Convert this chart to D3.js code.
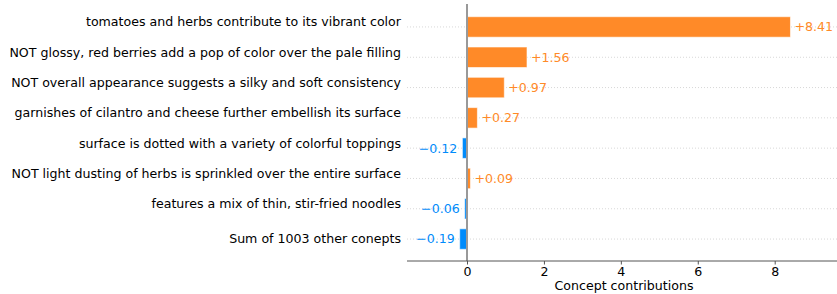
<!DOCTYPE html>
<html>
<head>
<meta charset="utf-8">
<script src="https://cdn.jsdelivr.net/npm/d3@7"></script>
<style>
  body { margin: 0; background: #fff; }
  text { font-family: "DejaVu Sans", sans-serif; }
</style>
</head>
<body>
<div id="chart"></div>
<script>
// concept names, top to bottom
var concepts = [
  'tomatoes and herbs contribute to its vibrant color',
  'NOT glossy, red berries add a pop of color over the pale filling',
  'NOT overall appearance suggests a silky and soft consistency',
  'garnishes of cilantro and cheese further embellish its surface',
  'surface is dotted with a variety of colorful toppings',
  'NOT light dusting of herbs is sprinkled over the entire surface',
  'features a mix of thin, stir-fried noodles',
  'Sum of 1003 other conepts'
];
var contributions = [8.41, 1.56, 0.97, 0.27, -0.12, 0.09, -0.06, -0.19];
var xTicks = [0, 2, 4, 6, 8];

var W = 837, H = 294;
var posColor = '#ff8a28', negColor = '#008bfb';
var fs = 12.6;

var svg = d3.select('#chart').append('svg')
    .attr('width', W)
    .attr('height', H);

var x = d3.scaleLinear().domain([-1.56, 9.62]).range([407, 837]);
var y = d3.scaleBand().domain(concepts).range([11.8, 254.2]).padding(0);
var barH = 20.5;
var fmt = function (v) { return (v >= 0 ? '+' : '\u2212') + Math.abs(v).toFixed(2); };

var rows = concepts.map(function (c, i) { return {name: c, value: contributions[i], i: i}; });

// dotted guide lines
svg.append('g').selectAll('line')
    .data(rows).enter().append('line')
    .attr('x1', 407).attr('x2', 837)
    .attr('y1', d => y(d.name) + y.bandwidth() / 2)
    .attr('y2', d => y(d.name) + y.bandwidth() / 2)
    .attr('stroke', '#d8d8d8')
    .attr('stroke-dasharray', '1,2');

// bars
svg.append('g').selectAll('rect')
    .data(rows).enter().append('rect')
    .attr('x', d => x(Math.min(0, d.value)))
    .attr('width', d => Math.abs(x(d.value) - x(0)))
    .attr('y', d => y(d.name) + y.bandwidth() / 2 - barH / 2)
    .attr('height', barH)
    .attr('fill', d => d.value >= 0 ? posColor : negColor)
    .attr('stroke', 'rgba(255,255,255,0.6)')
    .attr('stroke-width', 1);

// zero line
svg.append('line')
    .attr('x1', x(0)).attr('x2', x(0))
    .attr('y1', 4).attr('y2', 261)
    .attr('stroke', '#999')
    .attr('stroke-width', 2);

// value labels
svg.append('g').selectAll('text')
    .data(rows).enter().append('text')
    .attr('x', d => d.value >= 0 ? x(d.value) + 4 : x(d.value) - 5)
    .attr('y', d => y(d.name) + y.bandwidth() / 2)
    .attr('dy', '0.35em')
    .attr('text-anchor', d => d.value >= 0 ? 'start' : 'end')
    .attr('font-size', fs)
    .attr('fill', d => d.value >= 0 ? posColor : negColor)
    .text(d => fmt(d.value));

// concept labels
svg.append('g').selectAll('text')
    .data(rows).enter().append('text')
    .attr('x', 401)
    .attr('y', d => y(d.name) + y.bandwidth() / 2 + (d.i === rows.length - 1 ? 0 : -5))
    .attr('dy', '0.35em')
    .attr('text-anchor', 'end')
    .attr('font-size', fs)
    .attr('fill', '#000')
    .text(d => d.name);

// x axis
var xAxis = svg.append('g')
    .attr('transform', 'translate(0,261)')
    .call(d3.axisBottom(x).tickValues(xTicks).tickSize(3.5).tickPadding(2.5));
xAxis.select('.domain').attr('stroke', '#555').attr('d', 'M407,0H837');
xAxis.selectAll('.tick line').attr('stroke', '#555');
xAxis.selectAll('.tick text').attr('font-size', fs).attr('fill', '#000')
    .attr('font-family', '"DejaVu Sans", sans-serif');

svg.append('text')
    .attr('x', (x.range()[0] + x.range()[1]) / 2 + 2)
    .attr('y', 289.5)
    .attr('text-anchor', 'middle')
    .attr('font-size', fs)
    .attr('fill', '#000')
    .text('Concept contributions');
</script>
</body>
</html>
